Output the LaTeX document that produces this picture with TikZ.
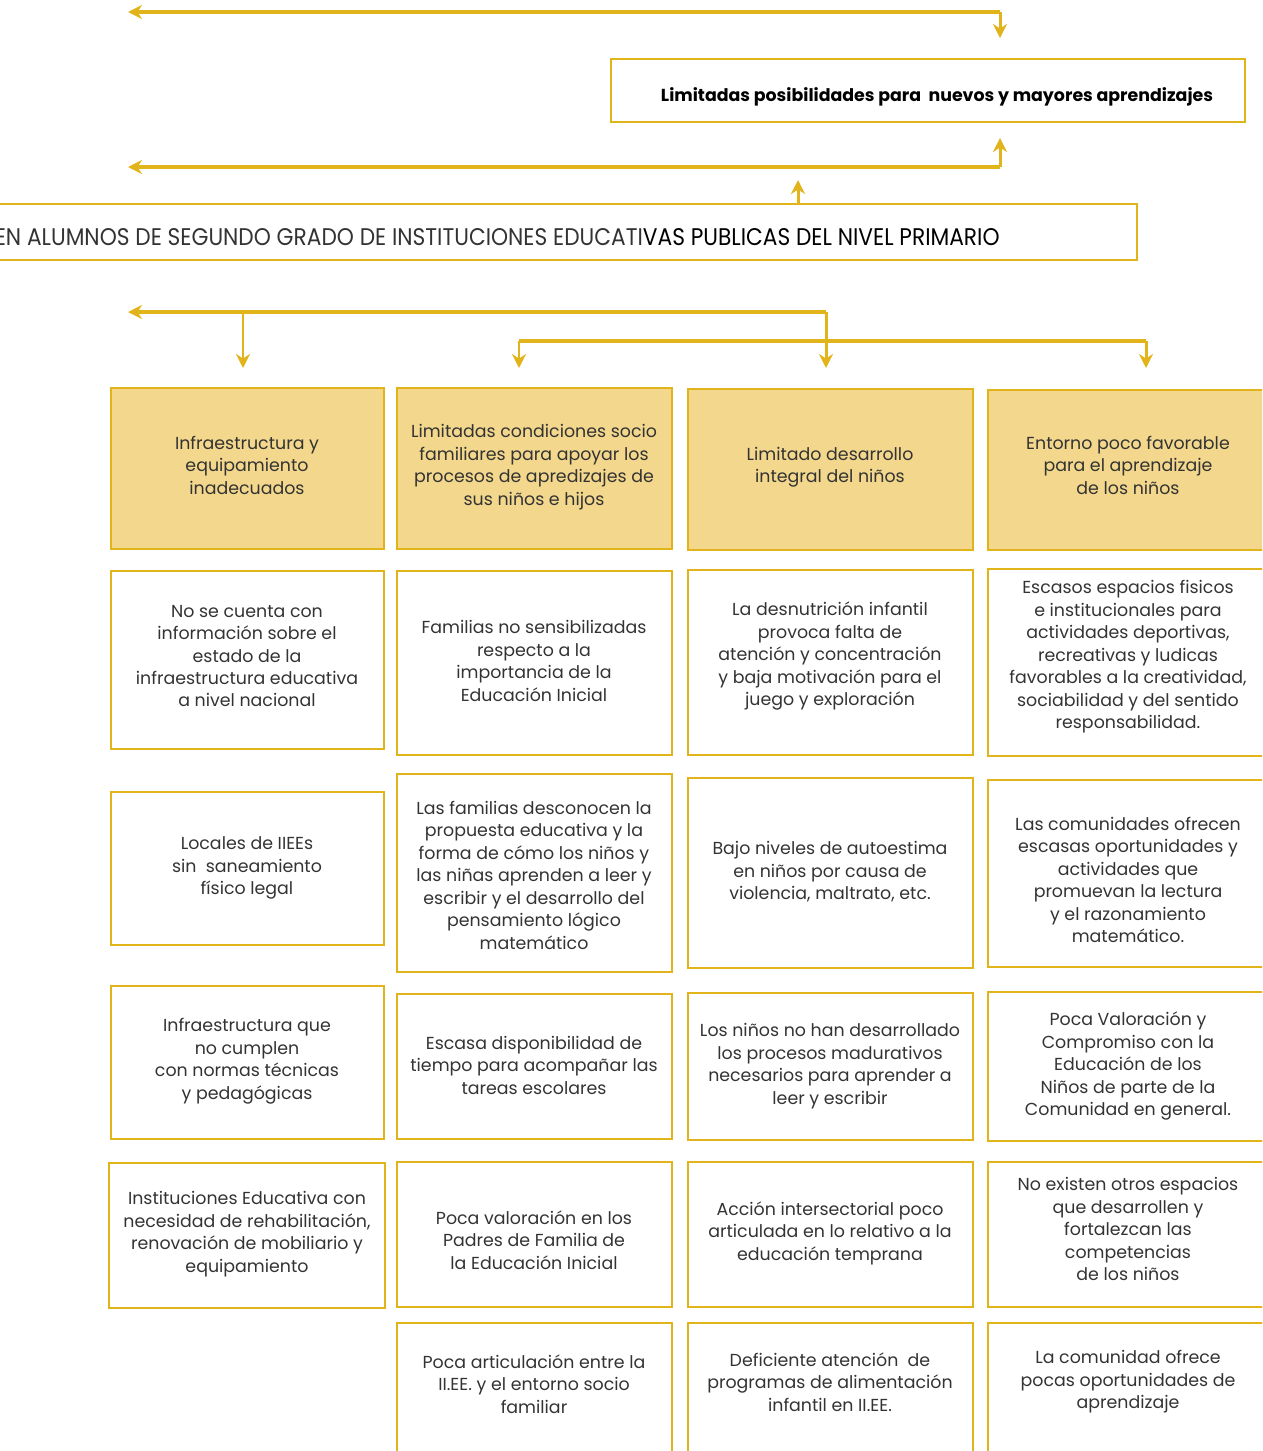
\documentclass[tikz,border=0pt]{standalone}
\usepackage{fontspec}
\setmainfont{Poppins}
\usetikzlibrary{arrows.meta}
\definecolor{gold}{HTML}{E2B41B}
\definecolor{fillc}{HTML}{F2D78C}
\definecolor{txt}{HTML}{333333}
\newcommand\bx[9]{%
\node[#1, minimum width={(#5-#3)*0.02cm}, minimum height={(#6-#4)*0.02cm}] (#2) at ({(#3+#5)/2},{(#4+#6)/2}) {};
\node[lbl] (#2t) at (#7,#8) {#9};}
\begin{document}
\begin{tikzpicture}[x=0.02cm,y=-0.02cm,
 box/.style={draw=gold, line width=1.6pt, inner sep=0pt},
 head/.style={box, fill=fillc},
 lbl/.style={align=center, text=txt, inner sep=0pt, font=\fontsize{9.9}{12.8}\selectfont},
 thickln/.style={draw=gold, line width=2.8pt},
 thinln/.style={draw=gold, line width=1.7pt},
 tip/.style={-{Stealth[length=8pt,width=8pt]}}]
\useasboundingbox (0,0) rectangle (1262,1451);
\clip (0,0) rectangle (1262,1451);

% top result box
\node[box, minimum width={(1245-611)*0.02cm}, minimum height={(122-59)*0.02cm}] (res) at ({(611+1245)/2},{(59+122)/2}) {};
\node[lbl, font=\fontsize{9.9}{12}\selectfont\bfseries, text=black] (rest) at (937,97) {Limitadas posibilidades para\ \ nuevos y mayores aprendizajes};

% problem box
\node[box, minimum width={(1137+20)*0.02cm}, minimum height={(260-204)*0.02cm}] (prob) at ({(1137-20)/2},{(204+260)/2}) {};
\node[lbl, anchor=east, text=txt] (probt) at (1000,237) {\resizebox{20.1cm}{0.34cm}{EN ALUMNOS DE SEGUNDO GRADO DE INSTITUCIONES EDUCATI\textcolor{black}{VAS PUBLICAS DEL NIVEL PRIMARIO}}};

% top connectors
\coordinate (a1) at (1000,12);
\coordinate (a1l) at (128,12);
\coordinate (a1d) at (1000,38);
\draw[thickln, tip] (a1) -- (a1l);
\draw[thinln, tip] (a1) -- (a1d);

\coordinate (a2) at (1000,167);
\coordinate (a2l) at (128,167);
\coordinate (a2u) at (1000,138);
\draw[thickln, tip] (a2) -- (a2l);
\draw[thinln, tip] (a2) -- (a2u);

\coordinate (a3) at (798,204);
\coordinate (a3u) at (798,180);
\draw[thinln, tip] (a3) -- (a3u);

% cause connectors
\coordinate (c0) at (826,312);
\coordinate (cl) at (128,312);
\coordinate (c1) at (243,312);
\draw[thickln, tip] (c0) -- (cl);
\draw[thickln] (519,341) coordinate (d1) -- (1146,341) coordinate (d2);
\coordinate (t1) at (243,368);
\coordinate (t2) at (519,368);
\coordinate (t3) at (826,368);
\coordinate (t4) at (1146,368);
\draw[thinln, tip] (c1) -- (t1);
\draw[thinln, tip] (d1) -- (t2);
\draw[thinln, tip] (c0) -- (t3);
\draw[thinln, tip] (d2) -- (t4);

% headers
\bx{head}{h1}{111}{388}{384}{549}{247}{465}{Infraestructura y\\equipamiento\\inadecuados}
\bx{head}{h2}{397}{388}{672}{549}{534}{467}{Limitadas condiciones socio\\familiares para apoyar los\\procesos de apredizajes de\\sus niños e hijos}
\bx{head}{h3}{688}{389}{973}{550}{830}{467}{Limitado desarrollo\\integral del niños}
\bx{head}{h4}{988}{390}{1290}{550}{1128}{465}{Entorno poco favorable\\para el aprendizaje\\de los niños}

% column 1
\bx{box}{a11}{111}{571}{384}{749}{247}{656}{No se cuenta con\\información sobre el\\estado de la\\infraestructura educativa\\a nivel nacional}
\bx{box}{a12}{111}{792}{384}{945}{247}{868}{Locales de IIEEs\\sin\ \ saneamiento\\físico legal}
\bx{box}{a13}{111}{986}{384}{1139}{247}{1061}{Infraestructura que\\no cumplen\\con normas técnicas\\y pedagógicas}
\bx{box}{a14}{109}{1163}{385}{1308}{247}{1234}{Instituciones Educativa con\\necesidad de rehabilitación,\\renovación de mobiliario y\\equipamiento}

% column 2
\bx{box}{b11}{397}{571}{672}{755}{534}{661}{Familias no sensibilizadas\\respecto a la\\importancia de la\\Educación Inicial}
\bx{box}{b12}{397}{774}{672}{972}{534}{875}{Las familias desconocen la\\propuesta educativa y la\\forma de cómo los niños y\\las niñas aprenden a leer y\\escribir y el desarrollo del\\pensamiento lógico\\matemático}
\bx{box}{b13}{397}{994}{672}{1139}{534}{1065}{Escasa disponibilidad de\\tiempo para acompañar las\\tareas escolares}
\bx{box}{b14}{397}{1162}{672}{1307}{534}{1240}{Poca valoración en los\\Padres de Familia de\\la Educación Inicial}
\bx{box}{b15}{397}{1323}{672}{1500}{534}{1384}{Poca articulación entre la\\II.EE. y el entorno socio\\familiar}

% column 3
\bx{box}{c11}{688}{570}{973}{755}{830}{656}{La desnutrición infantil\\provoca falta de\\atención y concentración\\y baja motivación para el\\juego y exploración}
\bx{box}{c12}{688}{778}{973}{968}{830}{872}{Bajo niveles de autoestima\\en niños por causa de\\violencia, maltrato, etc.}
\bx{box}{c13}{688}{993}{973}{1140}{830}{1066}{Los niños no han desarrollado\\los procesos madurativos\\necesarios para aprender a\\leer y escribir}
\bx{box}{c14}{688}{1162}{973}{1307}{830}{1233}{Acción intersectorial poco\\articulada en lo relativo a la\\educación temprana}
\bx{box}{c15}{688}{1323}{973}{1500}{830}{1382}{Deficiente atención\ \ de\\programas de alimentación\\infantil en II.EE.}

% column 4
\bx{box}{d11}{988}{569}{1290}{756}{1128}{657}{Escasos espacios fisicos\\e institucionales para\\actividades deportivas,\\recreativas y ludicas\\favorables a la creatividad,\\sociabilidad y del sentido\\responsabilidad.}
\bx{box}{d12}{988}{780}{1290}{967}{1128}{880}{Las comunidades ofrecen\\escasas oportunidades y\\actividades que\\promuevan la lectura\\y el razonamiento\\matemático.}
\bx{box}{d13}{988}{992}{1290}{1141}{1128}{1066}{Poca Valoración y\\Compromiso con la\\Educación de los\\Niños de parte de la\\Comunidad en general.}
\bx{box}{d14}{988}{1162}{1290}{1307}{1128}{1229}{No existen otros espacios\\que desarrollen y\\fortalezcan las\\competencias\\de los niños}
\bx{box}{d15}{988}{1323}{1290}{1500}{1128}{1382}{La comunidad ofrece\\pocas oportunidades de\\aprendizaje}
\end{tikzpicture}
\end{document}
